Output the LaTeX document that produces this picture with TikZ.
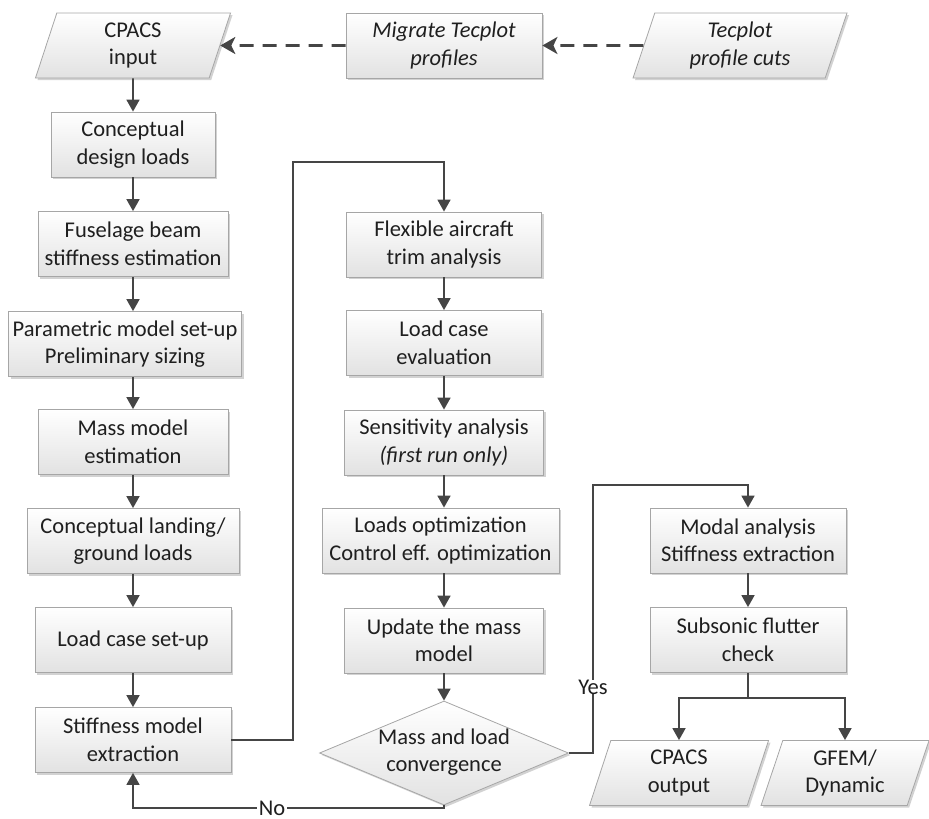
\documentclass[tikz,border=0pt]{standalone}
\usepackage{fontspec}
\setmainfont{Carlito}
\usetikzlibrary{arrows.meta,shapes.geometric,shadows}
\definecolor{ln}{HTML}{454545}
\definecolor{bd}{HTML}{A6A6A6}
\definecolor{tx}{HTML}{1F1F1F}
\definecolor{bot}{HTML}{E2E2E2}
\begin{document}
\begin{tikzpicture}[x=1pt,y=-1pt,
  font=\fontsize{22.5pt}{27.5pt}\selectfont, text=tx,
  base/.style={draw=bd, line width=0.8pt, top color=white, bottom color=bot,
    drop shadow={shadow xshift=2pt,shadow yshift=-2pt,fill=black!35,opacity=0.5},
    align=center, inner sep=0pt, minimum height=65pt},
  proc/.style={base, rectangle},
  io/.style={base, trapezium, trapezium left angle=65, trapezium right angle=115, trapezium stretches body},
  decision/.style={base, diamond},
  itfont/.style={font=\fontsize{22.5pt}{27.5pt}\selectfont\itshape},
  arr/.style={draw=ln, line width=1.7pt, -{Triangle[width=13pt,length=12pt]}},
  plainln/.style={draw=ln, line width=1.7pt},
  darr/.style={draw=ln, line width=2.6pt, dash pattern=on 14pt off 9pt, -{Stealth[width=17pt,length=15pt,inset=4pt]}},
  lbl/.style={fill=white, inner xsep=2pt, inner ysep=0pt}
]
\useasboundingbox (0,0) rectangle (929,819);

% top row
\node[io, minimum width=195pt] (cin) at (133,45.5) {CPACS\\input};
\node[proc, minimum width=196pt, itfont] (mig) at (444,45.5) {Migrate Tecplot\\profiles};
\node[io, minimum width=214pt, itfont] (tec) at (740,45.5) {Tecplot\\profile cuts};

% left column
\node[proc, minimum width=164pt] (c1) at (133,144.5) {Conceptual\\design loads};
\node[proc, minimum width=190pt] (c2) at (133,244) {Fuselage beam\\stiffness estimation};
\node[proc, minimum width=233pt] (c3) at (125,344) {Parametric model set-up\\Preliminary sizing};
\node[proc, minimum width=190pt] (c4) at (133,442) {Mass model\\estimation};
\node[proc, minimum width=212pt] (c5) at (133,541) {Conceptual landing/\\ground loads};
\node[proc, minimum width=196pt] (c6) at (133,640) {Load case set-up};
\node[proc, minimum width=196pt] (c7) at (133,740) {Stiffness model\\extraction};

% middle column
\node[proc, minimum width=195pt] (m1) at (444,244.5) {Flexible aircraft\\trim analysis};
\node[proc, minimum width=195pt] (m2) at (444,343) {Load case\\evaluation};
\node[proc, minimum width=199pt] (m3) at (444,442.5) {Sensitivity analysis\\{\itshape (first run only)}};
\node[proc, minimum width=237pt] (m4) at (440.5,540.5) {Loads optimization\\Control eff. optimization};
\node[proc, minimum width=199pt] (m5) at (444,640.5) {Update the mass\\model};
\node[decision, minimum width=249pt, minimum height=104pt] (conv) at (444,753) {};
\node[align=center, inner sep=0pt] (convt) at (444,752) {Mass and load\\convergence};

% right column
\node[proc, minimum width=196pt] (r1) at (748,540.5) {Modal analysis\\Stiffness extraction};
\node[proc, minimum width=196pt] (r2) at (748,640) {Subsonic flutter\\check};
\node[io, minimum width=179pt] (out1) at (679,773) {CPACS\\output};
\node[io, minimum width=168pt] (out2) at (845,773) {GFEM/\\Dynamic};

% dashed inputs
\draw[darr] (mig) -- (cin);
\draw[darr] (tec) -- (mig);

% straight arrows
\foreach \a/\b in {cin/c1,c1/c2,c4/c5,c5/c6,c6/c7,m1/m2,m2/m3,m5/conv,r1/r2}
  \draw[arr] (\a) -- (\b);
\draw[arr] (c2.south) -- (c2.south |- c3.north);
\draw[arr] (c3.south -| c2.south) -- (c4.north);
\draw[arr] (m3.south) -- (m3.south |- m4.north);
\draw[arr] (m4.south -| m3.south) -- (m5.north);

% loop to middle column
\coordinate (lt) at (293,162);
\draw[arr] (c7.east) -| (lt) -| (m1.north);

% yes branch
\coordinate (yc) at (593,485);
\draw[arr] (conv.east) -| (yc) -| (r1.north);
\node[lbl] (yes) at (593,687) {Yes};

% no branch
\coordinate (nc) at (444,808);
\draw[arr] (conv.south) -- (nc) -| (c7.south);
\node[lbl] (no) at (272,808) {No};

% outputs
\coordinate (sp) at (748,698);
\draw[plainln] (r2.south) -- (sp);
\draw[arr] (sp) -| (out1);
\draw[arr] (sp) -| (out2);
\end{tikzpicture}
\end{document}
